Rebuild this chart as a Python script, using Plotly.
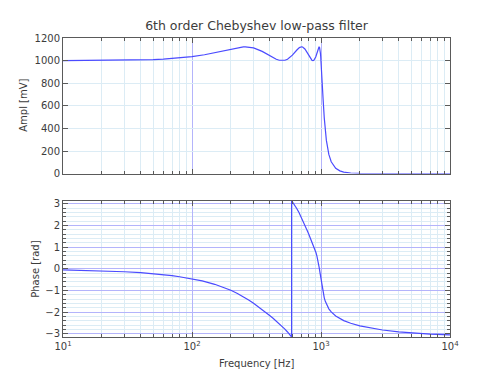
import plotly.graph_objects as go

# ---- data ----
freq_amp_hz = [10, 15, 20, 30, 40, 50, 60, 70, 80, 100, 125, 150, 175, 200, 225, 250, 259, 300,
               350, 400, 450, 475, 500, 525, 550, 600, 650, 680, 707, 720, 750, 780, 800, 820,
               850, 866, 880, 910, 930, 940, 950, 960, 966, 975, 980, 985, 990, 995, 1000, 1010,
               1020, 1040, 1060, 1080, 1100, 1150, 1200, 1300, 1400, 1500, 1700, 2000, 3000, 10000]
ampl_mv = [1000.2, 1000.8, 1001.5, 1003.3, 1005.9, 1009.1, 1013.0, 1017.6, 1022.7, 1034.6, 1051.7,
           1070.2, 1088.3, 1104.2, 1115.8, 1121.6, 1122.0, 1112.7, 1081.4, 1042.5, 1011.7, 1003.0,
           1000.0, 1003.1, 1012.5, 1047.9, 1093.6, 1114.8, 1122.0, 1120.3, 1102.9, 1070.6, 1047.9,
           1027.4, 1003.6, 1000.0, 1003.0, 1032.3, 1068.1, 1088.0, 1106.7, 1119.5, 1122.0, 1115.3,
           1103.6, 1086.6, 1063.6, 1034.5, 1000.0, 917.9, 825.7, 643.7, 492.9, 379.3, 295.7,
           169.3, 104.8, 47.1, 24.3, 13.7, 5.2, 1.6, 0.1, 0.0]

freq_phase_hz = [10, 20, 30, 40, 50, 60, 70, 80, 100, 120, 150, 175, 200, 225, 250, 275, 300,
                 325, 350, 375, 400, 425, 450, 475, 500, 525, 550, 565, 580, 591.6, 591.6, 600,
                 625, 650, 675, 700, 725, 750, 775, 800, 825, 850, 875, 900, 915, 930, 940, 950,
                 960, 970, 980, 990, 1000, 1010, 1020, 1040, 1060, 1080, 1100, 1150, 1200, 1300,
                 1500, 1700, 2000, 2500, 3000, 4000, 5000, 7000, 10000]
phase_rad = [-0.045, -0.089, -0.134, -0.179, -0.225, -0.270, -0.317, -0.364, -0.459, -0.557,
             -0.713, -0.847, -0.988, -1.133, -1.282, -1.433, -1.582, -1.730, -1.874, -2.013,
             -2.148, -2.278, -2.404, -2.530, -2.654, -2.780, -2.910, -2.991, -3.074, -3.1416,
             3.1416, 3.093, 2.938, 2.771, 2.592, 2.403, 2.207, 2.014, 1.815, 1.626, 1.441, 1.261,
             1.075, 0.874, 0.739, 0.584, 0.469, 0.339, 0.195, 0.036, -0.137, -0.319, -0.502,
             -0.680, -0.843, -1.123, -1.336, -1.498, -1.623, -1.843, -1.987, -2.175, -2.386,
             -2.510, -2.629, -2.747, -2.819, -2.904, -2.953, -3.008, -3.048]

x_tick_vals = [10, 100, 1000, 10000]
x_tick_text = ["10<sup>1</sup>", "10<sup>2</sup>", "10<sup>3</sup>", "10<sup>4</sup>"]
x_minor_vals = [m * d for d in (10, 100, 1000) for m in range(2, 10)]
amp_tick_vals = [0, 200, 400, 600, 800, 1000, 1200]
phase_tick_vals = [-3, -2, -1, 0, 1, 2, 3]
phase_minor_vals = [round(-3 + 0.2 * i, 1) for i in range(31) if i % 5 != 0]

title_text = "6th order Chebyshev low-pass filter"
amp_label = "Ampl [mV]"
phase_label = "Phase [rad]"
freq_label = "Frequency [Hz]"

# ---- styling ----
LINE = "#4b4bff"
MAJOR_GRID = "#b4b4fb"
MINOR_GRID = "#dcecf5"
AXIS = "#5a5a5a"
TEXT = "#3c3c3c"
FONT = "DejaVu Sans"

# page body has an 8px margin, so the figure is 492x367 drawn at offset (8, 8)
W, H = 492, 367
ML, MR, MT, MB = 55, 50, 30, 38

fig = go.Figure()
fig.add_trace(go.Scatter(x=freq_amp_hz, y=ampl_mv, mode="lines",
                         line=dict(color=LINE, width=1.2), xaxis="x", yaxis="y",
                         showlegend=False, hoverinfo="skip"))
fig.add_trace(go.Scatter(x=freq_phase_hz, y=phase_rad, mode="lines",
                         line=dict(color=LINE, width=1.2), xaxis="x2", yaxis="y2",
                         showlegend=False, hoverinfo="skip"))

xcommon = dict(type="log", range=[1, 4], tickmode="array", tickvals=x_tick_vals,
               showline=True, linecolor=AXIS, linewidth=1, mirror="allticks",
               ticks="inside", ticklen=5, tickcolor=AXIS,
               showgrid=True, gridcolor=MAJOR_GRID, gridwidth=1, zeroline=False,
               minor=dict(tickmode="array", tickvals=x_minor_vals, ticks="inside", ticklen=3,
                          tickcolor=AXIS, showgrid=True, gridcolor=MINOR_GRID, gridwidth=1),
               tickfont=dict(family=FONT, size=10, color=TEXT))

top_dom = [0.5465, 1]
bot_dom = [0, 0.456]
ann_font = dict(family=FONT, size=10, color=TEXT)

fig.update_layout(
    width=W, height=H,
    margin=dict(l=ML, r=MR, t=MT, b=MB, autoexpand=False),
    paper_bgcolor="white", plot_bgcolor="white",
    font=dict(family=FONT, color=TEXT, size=10),
    title=dict(text=title_text, xref="paper", x=0.5, xanchor="center",
               yref="container", y=1 - 17.7 / H, yanchor="middle",
               font=dict(family=FONT, size=12.5, color=TEXT)),
    xaxis=dict(xcommon, domain=[0, 1], anchor="y", showticklabels=False, ticktext=x_tick_text),
    yaxis=dict(domain=top_dom, anchor="x", range=[0, 1200], tickmode="array",
               tickvals=amp_tick_vals, showline=True, linecolor=AXIS, mirror="allticks",
               ticks="inside", ticklen=5, tickcolor=AXIS, showgrid=True, gridcolor=MINOR_GRID,
               zeroline=False, tickfont=dict(family=FONT, size=10, color=TEXT)),
    xaxis2=dict(xcommon, domain=[0, 1], anchor="y2", showticklabels=True, ticktext=x_tick_text),
    yaxis2=dict(domain=bot_dom, anchor="x2", range=[-3.1416, 3.1416], tickmode="array",
                tickvals=phase_tick_vals, showline=True, linecolor=AXIS, mirror="allticks",
                ticks="inside", ticklen=5, tickcolor=AXIS, showgrid=True, gridcolor=MAJOR_GRID,
                zeroline=False, tickfont=dict(family=FONT, size=10, color=TEXT),
                minor=dict(tickmode="array", tickvals=phase_minor_vals, ticks="inside", ticklen=3,
                           tickcolor=AXIS, showgrid=True, gridcolor=MINOR_GRID)),
    annotations=[
        dict(text=amp_label, xref="paper", yref="paper", x=0, y=sum(top_dom) / 2,
             xanchor="center", yanchor="middle", xshift=-39, textangle=-90,
             showarrow=False, font=ann_font),
        dict(text=phase_label, xref="paper", yref="paper", x=0, y=sum(bot_dom) / 2,
             xanchor="center", yanchor="middle", xshift=-27, textangle=-90,
             showarrow=False, font=ann_font),
        dict(text=freq_label, xref="paper", yref="paper", x=0.5, y=0,
             xanchor="center", yanchor="middle", yshift=-26.7,
             showarrow=False, font=ann_font),
    ],
)

fig.write_html("out.html")
